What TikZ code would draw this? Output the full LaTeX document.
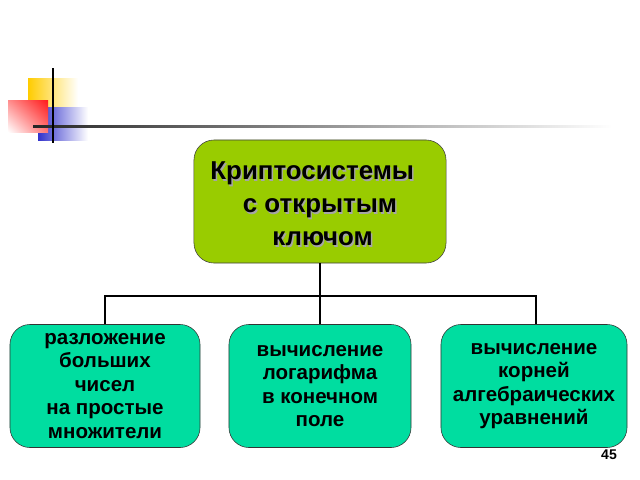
\documentclass[tikz,border=0pt]{standalone}
\usepackage{fontspec}
\setmainfont{Liberation Sans}
\usetikzlibrary{positioning,shadings}
\definecolor{topgreen}{HTML}{99CC00}
\definecolor{subgreen}{HTML}{00DDA0}
\definecolor{decoyellow}{HTML}{FFCC00}
\definecolor{decored}{HTML}{FF1A1A}
\definecolor{decoblue}{HTML}{3333CC}

\tikzset{
    topbox/.style={draw=black!75, fill=topgreen, rounded corners=0.5cm,
        minimum width=6.3cm, minimum height=3.075cm, align=center,
        font=\fontsize{18.4}{23.4}\selectfont\bfseries},
    subbox/.style={draw=black!80, fill=subgreen, rounded corners=0.5cm,
        minimum height=3.075cm, align=center,
        font=\fontsize{14.6}{16.7}\selectfont\bfseries},
    link/.style={thick, black}
}

\begin{document}
\begin{tikzpicture}[x=0.025cm, y=-0.025cm]
    \useasboundingbox (0,0) rectangle (640,480);

    % Decoration
    \shade[left color=decoyellow, middle color=decoyellow, right color=white] (28,78) rectangle (78,112);
    \shade[left color=decoblue, middle color=decoblue, right color=white] (38,107) rectangle (88,140);
    \shade[upper right=decored, upper left=decored!50, lower right=decored!60, lower left=white] (8,100) rectangle (48,132);
    \shade[left color=black!85, right color=white] (33,125) rectangle (612,127.5);
    \draw[line width=1.4pt] (53,68) -- (53,143);

    % Boxes
    \node[topbox] (root) at (320,201.5) {};
    \node[text=black!35, align=center, font=\fontsize{18.4}{23.4}\selectfont\bfseries, xshift=1pt, yshift=-1pt]
        (roottextshadow) at (320,204) {Криптосистемы\hspace*{0.6em}\\с открытым\hspace*{0.4em}\\\hspace*{0.2em}ключом};
    \node[align=center, font=\fontsize{18.4}{23.4}\selectfont\bfseries]
        (roottext) at (320,204) {Криптосистемы\hspace*{0.6em}\\с открытым\hspace*{0.4em}\\\hspace*{0.2em}ключом};

    \node[subbox, minimum width=4.75cm] (factor) at (105,386)
        {разложение\\больших\\чисел\\на простые\\множители};
    \node[subbox, minimum width=4.55cm] (logarithm) at (320,386)
        {вычисление\\логарифма\\в конечном\\поле};
    \node[subbox, minimum width=4.65cm] (roots) at (534,386)
        {вычисление\\корней\\алгебраических\\уравнений};

    % Connectors
    \coordinate (bus) at (320,296);
    \draw[link] (root.south) -- (logarithm.north);
    \draw[link] (factor.north) |- (bus) -| ([xshift=0.05cm]roots.north);

    % Page number
    \node[font=\fontsize{10}{12}\selectfont\bfseries] (pagenum) at (609,455) {45};
\end{tikzpicture}
\end{document}
